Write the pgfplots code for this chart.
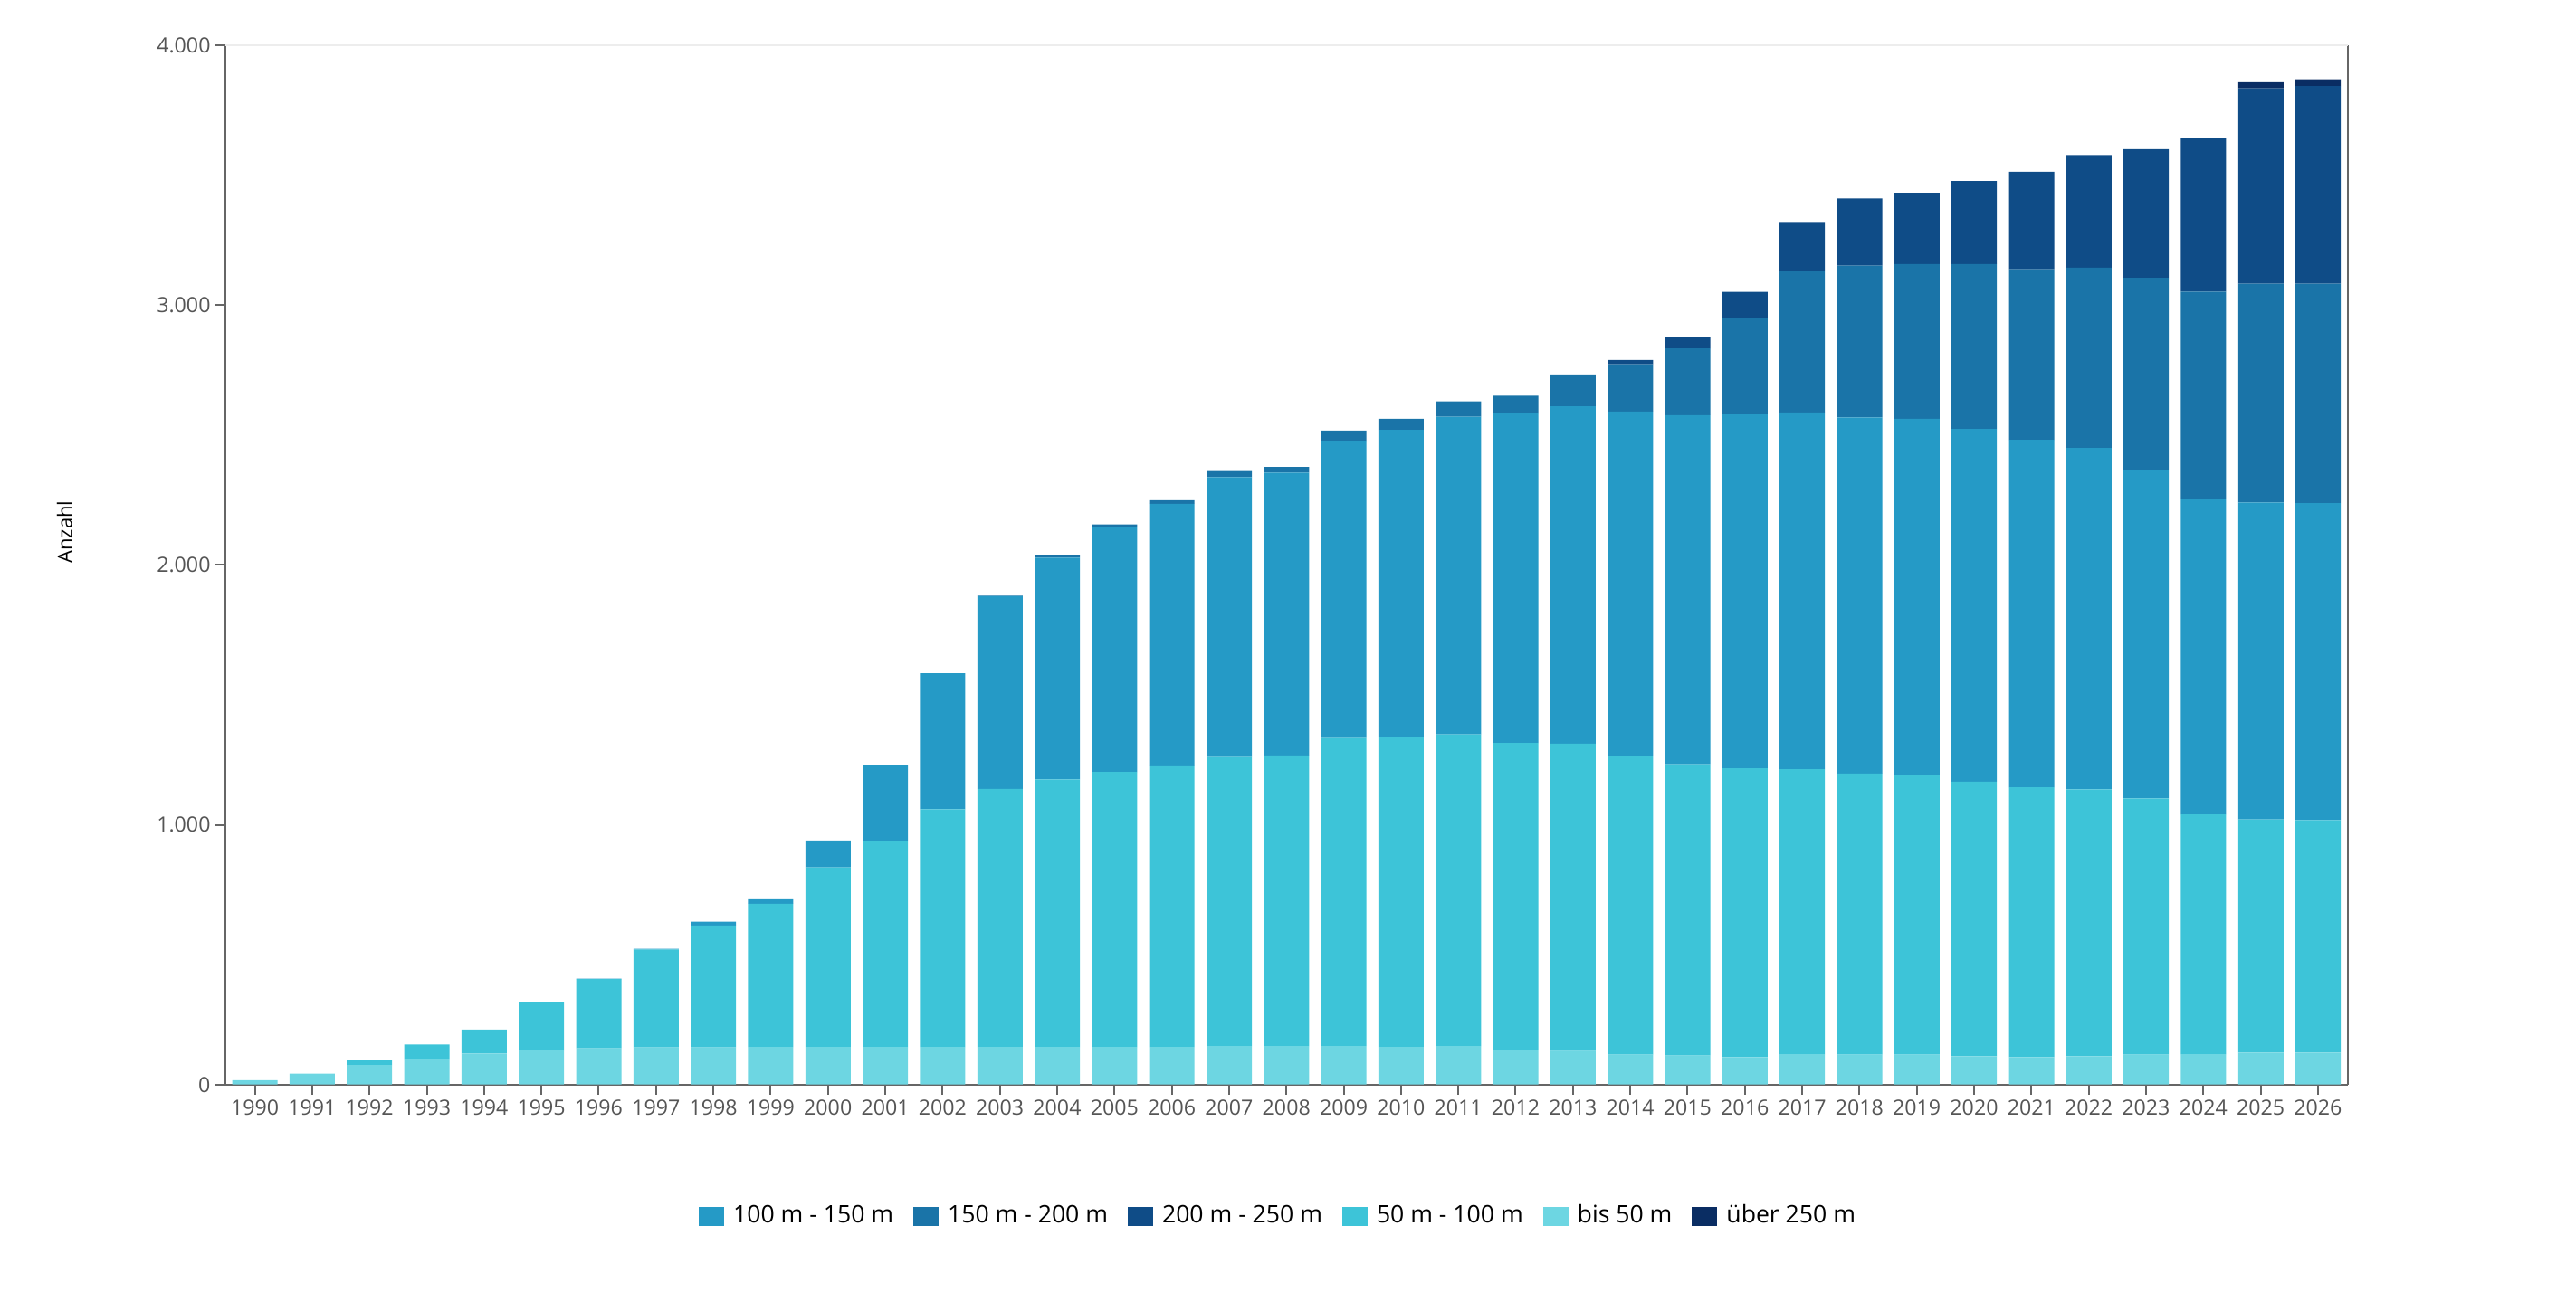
\documentclass[border=0pt]{standalone}
\usepackage{pgfplots}
\pgfplotsset{compat=1.18}
\usepackage{pgfplotstable}
\usepackage{fontspec}
\setmainfont{Open Sans}
\definecolor{cA}{HTML}{6DD6E2}
\definecolor{cB}{HTML}{3DC4D8}
\definecolor{cC}{HTML}{259AC6}
\definecolor{cD}{HTML}{1A74A8}
\definecolor{cE}{HTML}{0F4C87}
\definecolor{cF}{HTML}{0A2D63}
\definecolor{axgray}{HTML}{666666}
\definecolor{txtgray}{HTML}{555555}
\pgfplotstableread{
year b50 b100 b150 b200 b250 u250
1990 17 0 0 0 0 0
1991 42 0 0 0 0 0
1992 75 20 0 0 0 0
1993 100 54 0 0 0 0
1994 120 92 0 0 0 0
1995 131 188 0 0 0 0
1996 140 266 2 0 0 0
1997 143 377 3 0 0 0
1998 143 469 15 0 0 0
1999 145 551 17 0 0 0
2000 145 691 104 0 0 0
2001 145 792 291 0 0 0
2002 145 915 523 0 0 0
2003 145 993 742 2 0 0
2004 145 1030 853 11 0 0
2005 145 1058 942 11 0 0
2006 145 1080 1010 14 0 0
2007 148 1113 1077 23 0 0
2008 148 1119 1088 22 0 0
2009 148 1186 1144 39 0 0
2010 145 1192 1183 42 0 0
2011 148 1200 1222 59 0 0
2012 134 1181 1267 69 0 0
2013 129 1183 1298 123 0 0
2014 115 1149 1326 182 17 0
2015 112 1121 1343 257 42 0
2016 106 1111 1362 369 103 0
2017 117 1097 1373 543 190 0
2018 115 1082 1371 584 258 0
2019 115 1077 1370 596 274 0
2020 109 1057 1357 635 319 0
2021 106 1038 1337 657 375 0
2022 109 1027 1314 694 433 0
2023 115 987 1264 739 495 0
2024 117 923 1214 798 591 0
2025 123 898 1219 842 752 24
2026 123 895 1220 844 761 26
}\data
\pgfplotsset{sqlegend/.style={legend image code/.code={\path[##1, draw=none] (0pt,-2.625pt) rectangle (7pt,2.625pt);}}}
\begin{document}
\begin{tikzpicture}
\useasboundingbox (-62.325pt,-59.825pt) rectangle (649.175pt,299.675pt);
\begin{axis}[
  at={(0pt,0pt)}, anchor=south west,
  scale only axis, width=586.175pt, height=287.175pt,
  ybar stacked, bar width=12.5pt,
  xmin=1989.49, xmax=2026.52, ymin=0, ymax=4000,
  clip=false,
  axis x line=bottom, axis y line=box,
  axis line style={-, draw=axgray, line width=0.5pt},
  xtick={1990,...,2026}, ytick={0,1000,2000,3000,4000},
  ytick pos=left, xtick pos=bottom,
  tick align=outside, major tick length=2.75pt,
  tick style={draw=axgray, line width=0.5pt},
  /pgf/number format/assume math mode=true,
  /pgf/number format/1000 sep={.},
  yticklabel style={font=\fontsize{5.8}{6}\selectfont, text=txtgray, inner sep=1.25pt},
  xticklabel style={font=\fontsize{5.8}{6}\selectfont, text=txtgray, inner sep=1.25pt, /pgf/number format/1000 sep={}},
  legend style={at={(0.4955,-0.127)}, anchor=center, legend columns=6, draw=none, fill=none,
    font=\fontsize{6.65}{8}\selectfont,
    nodes={inner sep=0pt},
    /tikz/every odd column/.append style={column sep=2.5pt},
    /tikz/every even column/.append style={column sep=5.5pt}},
]
\addplot[fill=cA, draw=none, forget plot] table[x=year, y=b50] {\data};
\addplot[fill=cB, draw=none, forget plot] table[x=year, y=b100] {\data};
\addplot[fill=cC, draw=none, forget plot] table[x=year, y=b150] {\data};
\addplot[fill=cD, draw=none, forget plot] table[x=year, y=b200] {\data};
\addplot[fill=cE, draw=none, forget plot] table[x=year, y=b250] {\data};
\addplot[fill=cF, draw=none, forget plot] table[x=year, y=u250] {\data};
\addlegendimage{sqlegend, fill=cC, draw=none}
\addlegendentry{100 m - 150 m}
\addlegendimage{sqlegend, fill=cD, draw=none}
\addlegendentry{150 m - 200 m}
\addlegendimage{sqlegend, fill=cE, draw=none}
\addlegendentry{200 m - 250 m}
\addlegendimage{sqlegend, fill=cB, draw=none}
\addlegendentry{50 m - 100 m}
\addlegendimage{sqlegend, fill=cA, draw=none}
\addlegendentry{bis 50 m}
\addlegendimage{sqlegend, fill=cF, draw=none}
\addlegendentry{über 250 m}
\draw[black!7, line width=0.4pt] (rel axis cs:0,1) -- (rel axis cs:1,1);
\node[rotate=90, font=\fontsize{5.5}{6}\selectfont] at (rel axis cs:-0.0759,0.5317) {Anzahl};
\end{axis}
\end{tikzpicture}
\end{document}
